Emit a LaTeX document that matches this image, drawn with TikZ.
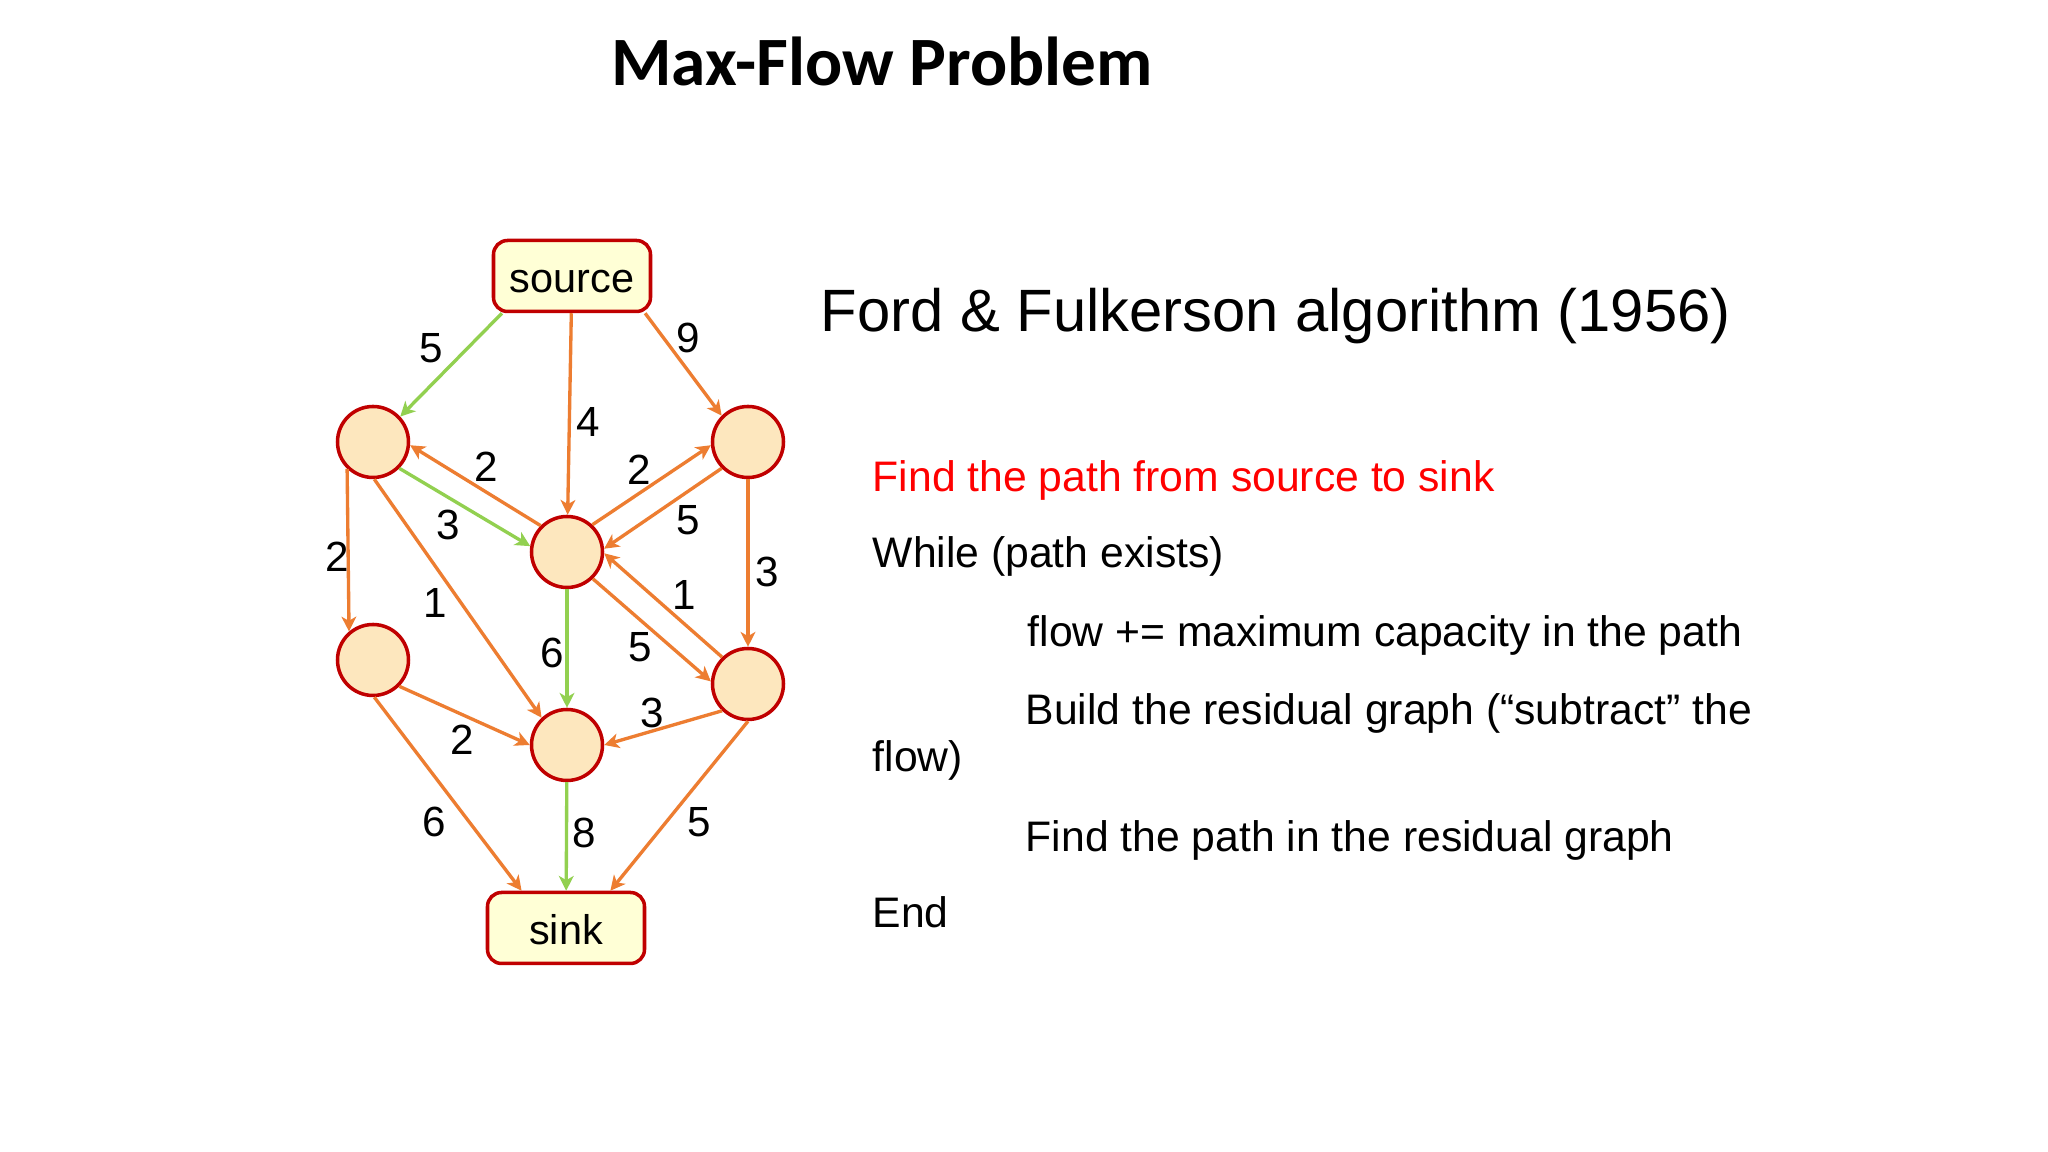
\documentclass[tikz,border=0pt]{standalone}
\usepackage{fontspec}
\setmainfont{Liberation Sans}
\newfontfamily\slidetitle{Carlito}
\usetikzlibrary{arrows.meta}

\definecolor{vred}{HTML}{C00000}
\definecolor{vfill}{HTML}{FDE7BE}
\definecolor{bfill}{HTML}{FFFFD6}
\definecolor{eorange}{HTML}{ED7D31}
\definecolor{egreen}{HTML}{92D050}

\tikzset{
  vert/.style={circle, draw=vred, fill=vfill, line width=1pt, minimum size=0.71cm, inner sep=0pt},
  term/.style={rectangle, rounded corners=4pt, draw=vred, fill=bfill, line width=1pt,
    minimum width=1.57cm, minimum height=0.71cm, inner sep=0pt, text height=9.6pt, text depth=0pt,
    font=\fontsize{11.8}{14}\selectfont},
  flow/.style={draw=eorange, line width=0.95pt, -{Stealth[length=4.2pt,width=4.2pt,inset=1.2pt]}},
  aug/.style={flow, draw=egreen},
  weight/.style={inner sep=0pt, font=\fontsize{12}{14}\selectfont},
  algline/.style={anchor=base west, inner sep=0pt, font=\fontsize{12.15}{14}\selectfont}
}

\begin{document}
\begin{tikzpicture}
    \useasboundingbox[fill=white] (0, 0) rectangle (20.48, 11.52);

    \node[anchor=base, inner sep=0pt, font=\slidetitle\bfseries\fontsize{19.7}{24}\selectfont] (title) at(8.82, 10.66){Max-Flow Problem};

    % graph
    \node[term] (source) at(5.72, 8.76){source};
    \node[vert] (A) at(3.73, 7.10){};
    \node[vert] (B) at(7.48, 7.10){};
    \node[vert] (C) at(5.67, 6.00){};
    \node[vert] (D) at(3.73, 4.92){};
    \node[vert] (E) at(7.48, 4.68){};
    \node[vert] (F) at(5.67, 4.07){};
    \node[term] (sink) at(5.66, 2.24){sink};

    \draw[aug] (source.208) -- (A.43);
    \draw[flow] (source) -- (C);
    \draw[flow] (source.-27) -- (B.135);
        \draw[flow] (C.135) -- (A.-5);
        \draw[aug] (A.-45) -- (C.171);
        \draw[flow] (C.47) -- (B.185);
        \draw[flow] (B.225) -- (C.5);
    \draw[flow] (A.226) -- (D.130);
    \draw[flow] (A.-88) -- (F.133);
    \draw[flow] (B) -- (E);
        \draw[flow] (E.134) -- (C.-2);
        \draw[flow] (C.-46) -- (E.176);
    \draw[aug] (C) -- (F);
    \draw[flow] (D.-45) -- (F.180);
    \draw[flow] (E.226) -- (F.0);
    \draw[flow] (D.-88) -- (sink.140);
    \draw[aug] (F) -- (sink);
    \draw[flow] (E.-90) -- (sink.40);

    \node[weight] (csA) at(4.31, 8.04){5};
    \node[weight] (csC) at(5.88, 7.30){4};
    \node[weight] (csB) at(6.88, 8.14){9};
    \node[weight] (cCA) at(4.86, 6.85){2};
    \node[weight] (cAC) at(4.48, 6.27){3};
    \node[weight] (cCB) at(6.39, 6.82){2};
    \node[weight] (cBC) at(6.88, 6.32){5};
    \node[weight] (cAD) at(3.37, 5.95){2};
    \node[weight] (cAF) at(4.35, 5.49){1};
    \node[weight] (cBE) at(7.67, 5.80){3};
    \node[weight] (cEC) at(6.84, 5.57){1};
    \node[weight] (cCE) at(6.40, 5.05){5};
    \node[weight] (cCF) at(5.52, 4.99){6};
    \node[weight] (cDF) at(4.62, 4.12){2};
    \node[weight] (cEF) at(6.52, 4.39){3};
    \node[weight] (cDt) at(4.34, 3.30){6};
    \node[weight] (cFt) at(5.84, 3.19){8};
    \node[weight] (cEt) at(6.99, 3.30){5};

    % algorithm
    \node[anchor=base west, inner sep=0pt, font=\fontsize{17}{20}\selectfont] (algo) at(8.20, 8.20){Ford \& Fulkerson algorithm (1956)};
    \node[algline, text=red] (l1) at(8.72, 6.60){Find the path from source to sink};
    \node[algline] (l2) at(8.72, 5.84){While (path exists)};
    \node[algline] (l3) at(10.27, 5.05){flow += maximum capacity in the path};
    \node[algline] (l4) at(10.25, 4.27){Build the residual graph (“subtract” the};
    \node[algline] (l5) at(8.72, 3.80){flow)};
    \node[algline] (l6) at(10.25, 3.00){Find the path in the residual graph};
    \node[algline] (l7) at(8.72, 2.24){End};
\end{tikzpicture}
\end{document}
